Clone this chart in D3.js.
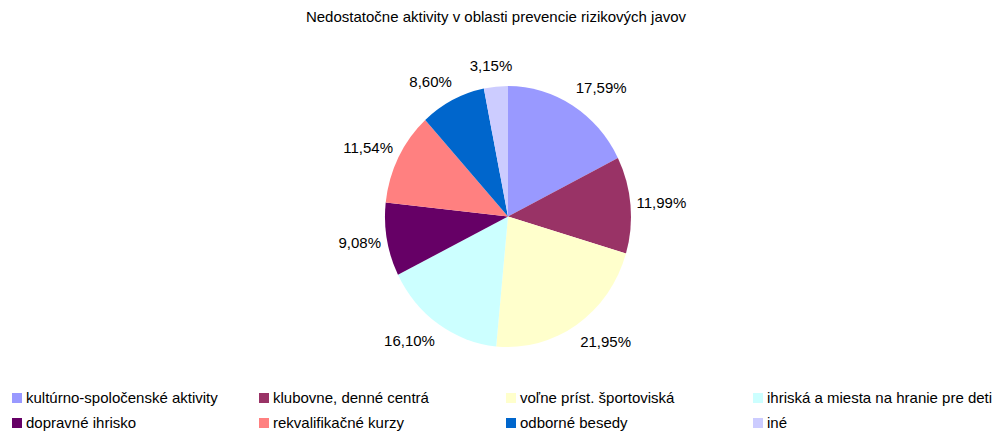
<!DOCTYPE html>
<html>
<head>
<meta charset="utf-8">
<script src="https://cdn.jsdelivr.net/npm/d3@7"></script>
<style>
  body { margin: 0; background: #fff; }
  svg { font-family: "Liberation Sans", Arial, sans-serif; }
</style>
</head>
<body>
<svg id="chart" width="995" height="432"></svg>
<script>
const categories = [
  "kultúrno-spoločenské aktivity",
  "klubovne, denné centrá",
  "voľne príst. športoviská",
  "ihriská a miesta na hranie pre deti",
  "dopravné ihrisko",
  "rekvalifikačné kurzy",
  "odborné besedy",
  "iné"
];
const values = [17.59, 11.99, 21.95, 16.10, 9.08, 11.54, 8.60, 3.15];
const colors = ["#9999FF", "#993366", "#FFFFCC", "#CCFFFF", "#660066", "#FF8080", "#0066CC", "#CCCCFF"];
const title = "Nedostatočne aktivity v oblasti prevencie rizikových javov";

const svg = d3.select("#chart");
const cx = 508, cy = 216.5, rx = 123, ry = 130.5;

svg.append("text")
  .attr("x", 496)
  .attr("y", 22)
  .attr("text-anchor", "middle")
  .style("font-size", "15px")
  .text(title);

const pie = d3.pie().sort(null).value(d => d)(values);
const arc = d3.arc().innerRadius(0).outerRadius(ry);

svg.append("g")
  .attr("transform", `translate(${cx},${cy}) scale(${rx / ry},1)`)
  .selectAll("path")
  .data(pie)
  .enter()
  .append("path")
  .attr("d", arc)
  .attr("fill", (d, i) => colors[i]);

// labels just outside the rim, shifted sideways by half their width
const fmt = v => v.toFixed(2).replace(".", ",") + "%";
svg.append("g")
  .selectAll("text")
  .data(pie)
  .enter()
  .append("text")
  .attr("text-anchor", "middle")
  .attr("dy", "0.35em")
  .style("font-size", "15px")
  .text(d => fmt(d.data))
  .each(function (d) {
    const a = (d.startAngle + d.endAngle) / 2;
    const w = this.getComputedTextLength();
    const side = Math.max(-1, Math.min(1, Math.sin(a) * 2));
    d3.select(this)
      .attr("x", cx + Math.sin(a) * (rx + 6) + side * w / 2)
      .attr("y", cy - Math.cos(a) * 151);
  });

const legend = svg.append("g")
  .selectAll("g")
  .data(categories)
  .enter()
  .append("g")
  .attr("transform", (d, i) => `translate(${12 + (i % 4) * 247}, ${398 + Math.floor(i / 4) * 25})`);

legend.append("rect")
  .attr("x", 0)
  .attr("y", -5)
  .attr("width", 10)
  .attr("height", 10)
  .attr("fill", (d, i) => colors[i]);

legend.append("text")
  .attr("x", 14)
  .attr("y", 0)
  .attr("dy", "0.35em")
  .style("font-size", "15px")
  .text(d => d);
</script>
</body>
</html>
